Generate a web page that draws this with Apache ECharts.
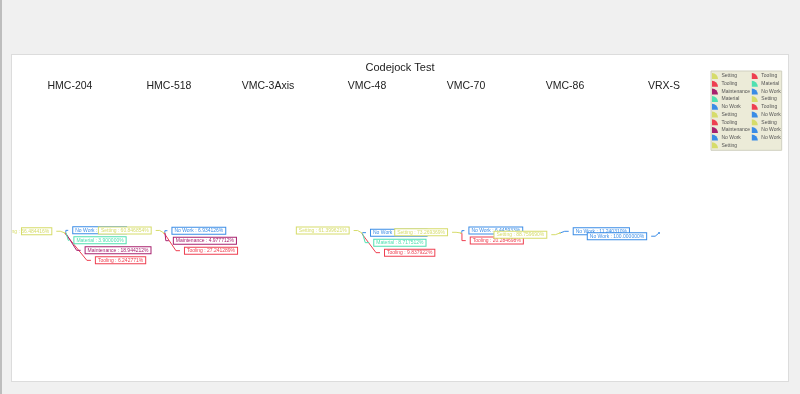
<!DOCTYPE html>
<html>
<head>
<meta charset="utf-8">
<script src="https://cdn.jsdelivr.net/npm/echarts@6/dist/echarts.min.js"></script>
<style>
html, body { margin: 0; padding: 0; background: #f0f0f0; }
body { width: 798px; height: 394px; border-left: 2px solid #bdbdbd; position: relative; }
#main {
  position: absolute;
  left: 10px;
  top: 55px;
  width: 776px;
  height: 326px;
  background: #fff;
  outline: 1px solid #dcdcdc;
  overflow: hidden;
}
</style>
</head>
<body>
<div id="main"></div>
<script>
// machines (one pie each)
const machines = ['HMC-204', 'HMC-518', 'VMC-3Axis', 'VMC-48', 'VMC-70', 'VMC-86', 'VRX-S']
// states, in legend order
const states = ['Setting', 'Tooling', 'Maintenance', 'Material', 'No Work']
// percentages per machine, null = no slice
const settingVals = [66.484416, 60.846854, null, 61.399621, 73.269369, 88.759690, null]
const toolingVals = [6.242771, 27.241289, null, 9.837922, 20.284698, null, null]
const maintenanceVals = [18.944212, 4.977712, null, null, null, null, null]
const materialVals = [3.9, null, null, 8.717512, null, null, null]
const noWorkVals = [4.428601, 6.934126, null, 20.044945, 6.445933, 11.240310, 100]

const stateVals = [settingVals, toolingVals, maintenanceVals, materialVals, noWorkVals]
const colors = ['#d6dc6a', '#ee3f50', '#a8206e', '#4fe0b0', '#3a8ce6']

const chart = echarts.init(document.getElementById('main'))

const titles = [{
  text: 'Codejock Test',
  left: 'center',
  top: 2,
  textStyle: { fontSize: 11, fontWeight: 'normal', color: '#222', fontFamily: 'Liberation Sans' }
}]
const series = []
const legendData = []

machines.forEach((m, i) => {
  const cx = 53 + i * 99
  titles.push({
    text: m,
    left: cx,
    top: 21,
    textAlign: 'center',
    textStyle: { fontSize: 10.5, fontWeight: 'normal', color: '#222', fontFamily: 'Liberation Sans' }
  })
  const data = []
  states.forEach((s, k) => {
    const v = stateVals[k][i]
    if (v == null) return
    // zero-width suffix keeps every legend entry separate, one per machine
    const key = s + '\u200b'.repeat(i)
    legendData.push(key)
    data.push({
      name: key,
      value: v,
      itemStyle: { color: colors[k] },
      label: { color: colors[k], borderColor: colors[k] },
      labelLine: { lineStyle: { color: colors[k] } }
    })
  })
  if (!data.length) return
  series.push({
    name: m,
    type: 'pie',
    center: [cx, 178],
    radius: [0, 1],
    clockwise: false,
    startAngle: 40,
    avoidLabelOverlap: true,
    minShowLabelAngle: 0,
    labelLayout: { hideOverlap: false },
    animation: false,
    label: {
      show: true,
      position: 'outside',
      overflow: 'none',
      fontSize: 5,
      lineHeight: 5,
      fontFamily: 'Liberation Sans',
      backgroundColor: '#fff',
      borderWidth: 1,
      padding: [0.5, 2],
      formatter: p => p.name + ' : ' + p.value.toFixed(6) + '%'
    },
    labelLine: { show: true, length: 4, length2: 4, lineStyle: { width: 1 } },
    data: data
  })
})

const option = {
  backgroundColor: '#fff',
  title: titles,
  legend: {
    orient: 'vertical',
    left: 699,
    top: 16,
    height: 76,
    padding: [2, 1],
    itemGap: 1.7,
    itemWidth: 7,
    itemHeight: 6,
    backgroundColor: '#ecebd8',
    borderColor: '#d0d0c0',
    borderWidth: 1,
    icon: 'path://M0,10 L0,0 A10,10 0 0 1 10,10 Z',
    textStyle: { fontSize: 5, color: '#555', fontFamily: 'Liberation Sans', padding: [0, -3, 0, -2] },
    data: legendData
  },
  series: series
}

chart.setOption(option)
</script>
</body>
</html>
